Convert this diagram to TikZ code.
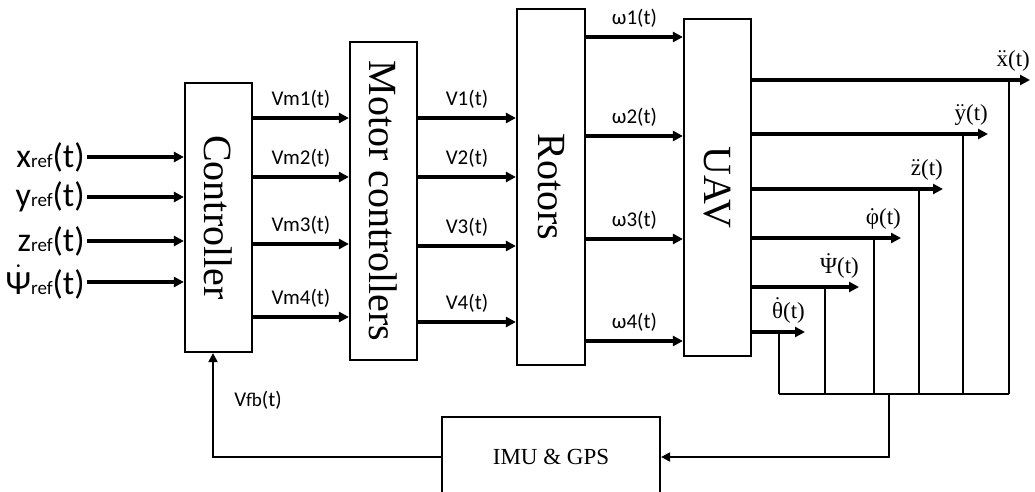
\documentclass[tikz,border=0pt]{standalone}
\usepackage{fontspec}
\usepackage{amsmath}
\usepackage{graphicx}
\setmainfont{Liberation Serif}
\newfontfamily\sigfont{Carlito}
\usetikzlibrary{arrows.meta}
\tikzset{
  block/.style = {draw, line width=1.1pt, inner sep=0, font=\fontsize{20}{24}\selectfont},
  sig/.style = {line width=2.2pt, -{Triangle[length=5pt,width=5pt]}},
  bus/.style = {line width=1pt},
  fb/.style = {line width=1pt, -{Triangle[length=4.5pt,width=4.5pt]}},
  siglab/.style = {font=\sigfont\fontsize{10.5}{12}\selectfont, inner sep=1.5pt, yshift=2pt},
  inlab/.style = {font=\sigfont\fontsize{17}{19}\selectfont, inner sep=1pt, anchor=east},
  outlab/.style = {font=\fontsize{11.5}{13}\selectfont, inner sep=1pt, anchor=south east, xshift=2pt, yshift=2pt}
}
\newcommand{\refsub}[1]{{\fontsize{9.5}{10}\selectfont #1}}

\begin{document}
\begin{tikzpicture}[x=0.5pt, y=-0.5pt]
    \useasboundingbox (0,0) rectangle (1035,492);
    % blocks
    \node[block, minimum width=33.5pt, minimum height=134.5pt] (ctrl) at (218.5,217.5) {\rotatebox{-90}{Controller}};
    \node[block, minimum width=33.5pt, minimum height=159pt] (motor) at (383.5,201) {\rotatebox{-90}{Motor controllers}};
    \node[block, minimum width=34pt, minimum height=178pt] (rotors) at (551,187) {\rotatebox{-90}{Rotors}};
    \node[block, minimum width=33.5pt, minimum height=168.5pt] (uav) at (717.5,187.5) {\rotatebox{-90}{UAV}};
    \node[block, minimum width=109pt, minimum height=40pt, font=\fontsize{11.5}{13}\selectfont] (imu) at (551,457) {IMU \& GPS};
    % reference inputs
    \node[inlab] (xin) at (87,157) {x\refsub{ref}(t)};
    \node[inlab] (yin) at (87,197) {y\refsub{ref}(t)};
    \node[inlab] (zin) at (87,241) {z\refsub{ref}(t)};
    \node[inlab] (psiin) at (87,282) {$\dot{\text{Ψ}}$\refsub{ref}(t)};
    \foreach \n in {xin, yin, zin, psiin} {
        \draw[sig] (\n.east) -- (ctrl.west |- \n.east);
    }
    % signals between blocks
    \foreach \y/\k in {118/1, 177/2, 244/3, 317/4} {
        \draw[sig] (ctrl.east |- 0,\y) -- (motor.west |- 0,\y) node[siglab, midway, above] {Vm\k(t)};
    }
    \foreach \y/\k in {118/1, 177/2, 246/3, 322/4} {
        \draw[sig] (motor.east |- 0,\y) -- (rotors.west |- 0,\y) node[siglab, midway, above] {V\k(t)};
    }
    \foreach \y/\k in {37/1, 136/2, 239/3, 341/4} {
        \draw[sig] (rotors.east |- 0,\y) -- (uav.west |- 0,\y) node[siglab, midway, above] {ω\k(t)};
    }
    % UAV outputs and taps
    \coordinate (hub) at (889,394);
    \foreach \i/\y/\xe/\xv/\txt in {1/80/1030/1009/{$\ddot{\text{x}}$(t)},
                                    2/134/988/963/{$\ddot{\text{y}}$(t)},
                                    3/189/943/919/{$\ddot{\text{z}}$(t)},
                                    4/238/901/874/{$\dot{\text{φ}}$(t)},
                                    5/287/859/825/{$\dot{\text{Ψ}}$(t)},
                                    6/332/805/779/{$\dot{\text{θ}}$(t)}} {
        \coordinate (out\i) at (\xe,\y);
        \coordinate (tap\i) at (\xv,\y);
        \draw[sig] (uav.east |- out\i) -- (out\i) node[outlab] {\txt};
        \draw[bus] (tap\i) -- (tap\i |- hub);
    }
    \draw[bus] (tap6 |- hub) -- (tap1 |- hub);
    % feedback loop
    \draw[fb] (hub) |- (imu.east);
    \draw[fb] (imu.west) -| ([xshift=-2.75pt]ctrl.south);
    \node[font=\sigfont\fontsize{10.5}{12}\selectfont] (vfb) at (258,400) {V\refsub{fb}(t)};
\end{tikzpicture}
\end{document}
